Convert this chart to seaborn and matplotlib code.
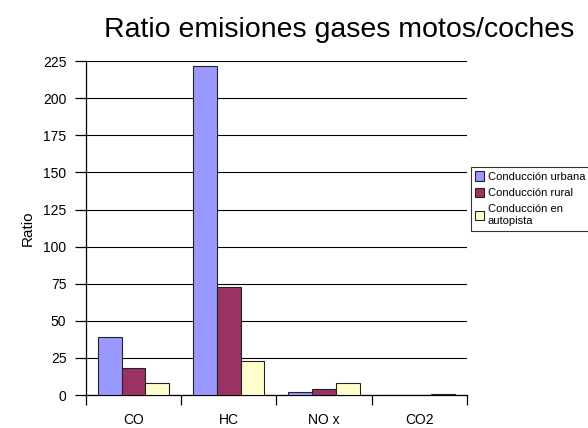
import matplotlib
matplotlib.use("Agg")
import matplotlib.pyplot as plt
from matplotlib.ticker import FixedLocator
import pandas as pd
import seaborn as sns

gases = ["CO", "HC", "NO x", "CO2"]
urbana = [39, 222, 2, 0.3]
rural = [18, 73, 4, 0.3]
autopista = [8, 23, 8, 0.6]
series = ["Conducción urbana", "Conducción rural", "Conducción en\nautopista"]
colores = ["#9999FF", "#993366", "#FFFFCC"]

df = pd.DataFrame({
    "Gas": gases * 3,
    "Ratio": urbana + rural + autopista,
    "Serie": [series[0]] * 4 + [series[1]] * 4 + [series[2]] * 4,
})

sns.set_theme(style="white")
plt.rcParams["font.family"] = ["Liberation Sans", "DejaVu Sans"]
plt.rcParams["text.color"] = "black"
plt.rcParams["axes.labelcolor"] = "black"
plt.rcParams["xtick.color"] = "black"
plt.rcParams["ytick.color"] = "black"

fig = plt.figure(figsize=(5.88, 4.28), dpi=100)
ax = fig.add_axes([0.146, 0.077, 0.648, 0.780])

sns.barplot(data=df, x="Gas", y="Ratio", hue="Serie", hue_order=series,
            palette=colores, saturation=1, width=0.75, edgecolor="#222222",
            linewidth=0.8, ax=ax, zorder=3)

ax.set_xlim(-0.5, 3.5)
ax.set_ylim(0, 225)
ax.set_yticks(range(0, 226, 25))
ax.grid(axis="y", color="black", linewidth=0.8, zorder=0)
ax.set_axisbelow(True)

for s in ["top", "right"]:
    ax.spines[s].set_visible(False)
for s in ["left", "bottom"]:
    ax.spines[s].set_color("black")
    ax.spines[s].set_linewidth(0.9)

# labels at centres, ticks at group boundaries
ax.set_xticks(range(4))
ax.set_xticklabels(gases, fontsize=10)
ax.tick_params(axis="x", which="major", length=0, pad=13)
ax.xaxis.set_minor_locator(FixedLocator([-0.5, 0.5, 1.5, 2.5, 3.5]))
ax.tick_params(axis="x", which="minor", bottom=True, length=7, width=0.9, color="black")
ax.tick_params(axis="y", left=True, length=8, width=0.9, color="black", labelsize=10, pad=6)

ax.set_xlabel("")
ax.set_ylabel("Ratio", fontsize=11, labelpad=6)
fig.text(0.577, 0.9136, "Ratio emisiones gases motos/coches", fontsize=20.5,
         ha="center", va="baseline")

leg = ax.legend(loc="upper left", bbox_to_anchor=(0.801, 0.61), bbox_transform=fig.transFigure,
                fontsize=8, frameon=True, fancybox=False, edgecolor="black",
                handlelength=0.8, handleheight=0.9, handletextpad=0.3,
                borderpad=0.4, labelspacing=0.55, borderaxespad=0)
leg.get_frame().set_linewidth(0.8)

fig.savefig("out.png", dpi=100)
